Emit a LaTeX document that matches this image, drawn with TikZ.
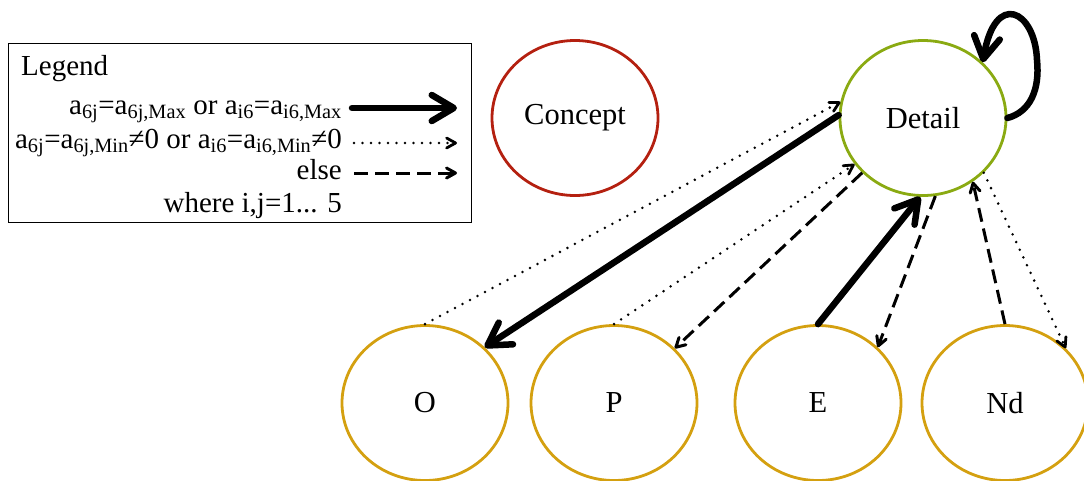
\documentclass[tikz,border=0pt]{standalone}
\usepackage{fontspec}
\setmainfont{Liberation Serif}
\usetikzlibrary{shapes.geometric,arrows.meta}
\definecolor{cred}{RGB}{180,32,16}
\definecolor{cgreen}{RGB}{138,170,18}
\definecolor{cgold}{RGB}{212,160,16}
\newcommand{\sbs}[1]{\textsubscript{#1}}
\begin{document}
\begin{tikzpicture}[x=1pt,y=-1pt,
 ell/.style={ellipse,draw,line width=2.8pt,minimum width=166pt,minimum height=155pt,inner sep=0pt,font=\fontsize{30.5}{36}\selectfont},
 big/.style={line width=6.5pt,line cap=round,-{Straight Barb[length=22pt,width=26pt,round]}},
 dotarr/.style={line width=2.8pt,line cap=round,dash pattern=on 0pt off 8.5pt,-{Straight Barb[length=9pt,width=10pt,round]}},
 dasharr/.style={line width=3pt,dash pattern=on 14pt off 7pt,-{Straight Barb[length=9pt,width=10pt,round]}},
 lgd/.style={font=\fontsize{29}{34}\selectfont,inner sep=0pt}
]
\useasboundingbox (0,0) rectangle (1084,480);
% legend
\node[draw,line width=1pt,minimum width=463pt,minimum height=179pt,inner sep=0pt,anchor=north west] (box) at (8,43) {};
\node[lgd,anchor=base west] (lg0) at (21,75) {Legend};
\node[lgd,anchor=base east] (lg1) at (342,114) {a\sbs{6j}=a\sbs{6j,Max} or a\sbs{i6}=a\sbs{i6,Max}};
\node[lgd,anchor=base east] (lg2) at (342,148) {a\sbs{6j}=a\sbs{6j,Min}≠0 or a\sbs{i6}=a\sbs{i6,Min}≠0};
\node[lgd,anchor=base east] (lg3) at (342,179) {else};
\node[lgd,anchor=base east] (lg4) at (342,212) {where i,j=1... 5};
\coordinate (l1a) at (352,108); \coordinate (l1b) at (457,108);
\coordinate (l2a) at (354,143); \coordinate (l2b) at (457,143);
\coordinate (l3a) at (354,173); \coordinate (l3b) at (457,173);
\draw[big] (l1a) -- (l1b);
\draw[dotarr] (l2a) -- (l2b);
\draw[dasharr] (l3a) -- (l3b);
% nodes
\node[ell,draw=cred] (C) at (575,118) {Concept};
\node[ell,draw=cgreen] (D) at (923,118) {Detail};
\node[ell,draw=cgold] (O) at (425,403) {O};
\node[ell,draw=cgold] (P) at (614,403) {P};
\node[ell,draw=cgold] (E) at (818,403) {E};
\node[ell,draw=cgold] (N) at (1005,403) {Nd};
% connectors
\draw[dotarr] (O.90) -- (D.169);
\draw[big] (D.178) -- (O.43);
\draw[dotarr] (P.90) -- (D.214);
\draw[dasharr] (D.222) -- (P.42);
\draw[big] (E.90) -- (D.268);
\draw[dasharr] (D.279) -- (E.43);
\draw[dasharr] (N.90) -- (D.308);
\draw[dotarr] (D.318) -- (N.42);
% self loop
\coordinate (lp1) at (1030,112); \coordinate (lp2) at (1040,90);
\coordinate (lpm) at (1037,60);
\coordinate (lp3) at (1035,10); \coordinate (lp4) at (995,-10);
\draw[big] (D.0) .. controls (lp1) and (lp2) .. (lpm) .. controls (lp3) and (lp4) .. (D.43);
\end{tikzpicture}
\end{document}
